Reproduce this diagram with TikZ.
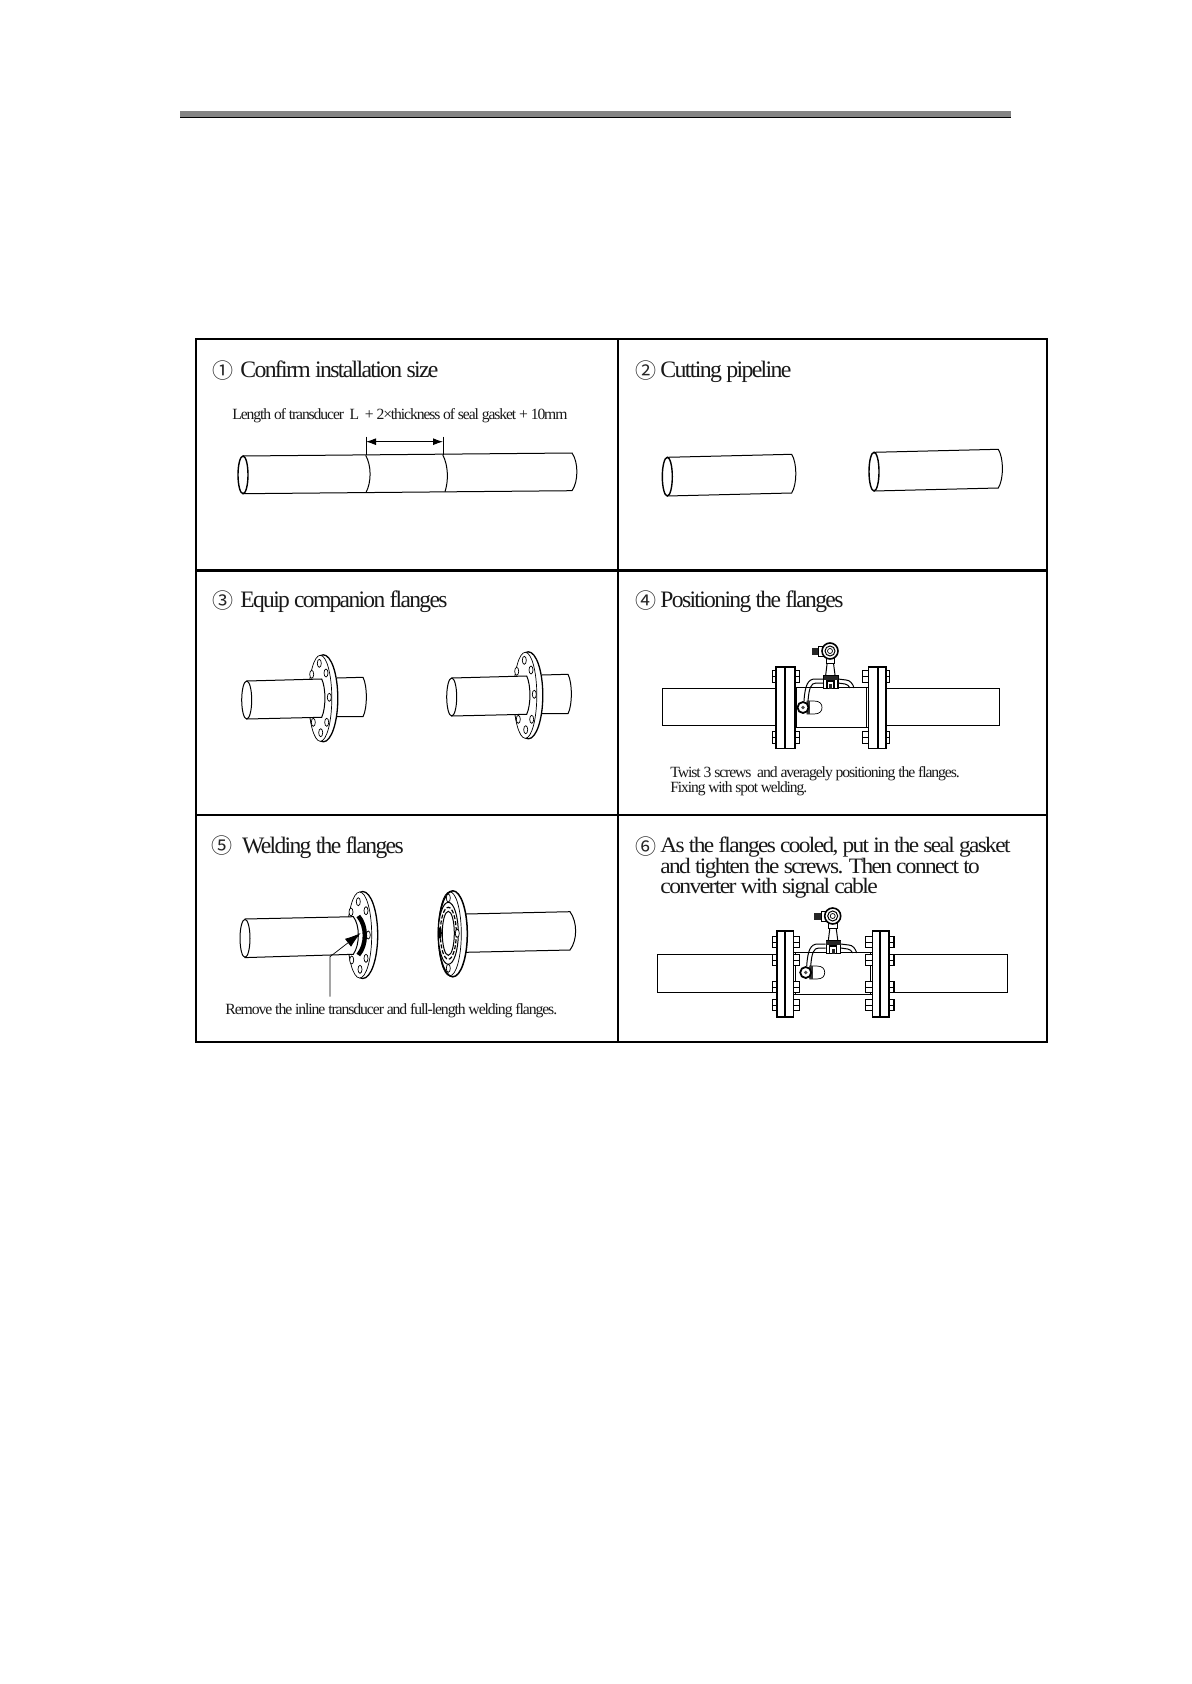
\documentclass[tikz,border=0pt]{standalone}
\usepackage{fontspec}
\usepackage{graphicx}
\setmainfont{Liberation Serif}[LetterSpace=-7]
\newfontfamily\circfont{Noto Sans CJK SC}
\usetikzlibrary{arrows.meta}
\tikzset{
  ln/.style={line width=0.5pt,black},
  thin ln/.style={line width=0.35pt,black},
  frame/.style={line width=1.25pt,black},
  ttl/.style={anchor=base west,inner sep=0pt,font=\fontsize{11.8}{14}\selectfont,text=black!90},
  ttlb/.style={anchor=base west,inner sep=0pt,font=\fontsize{11}{13}\selectfont,text=black!90},
  sub/.style={anchor=base west,inner sep=0pt,font=\fontsize{7.8}{10}\selectfont,text=black!90},
  num/.style={anchor=center,inner sep=0pt,font=\circfont\fontsize{10.5}{12}\selectfont,text=black!85},
}
% text squeezed to a width given in pixels
\newcommand{\fitw}[2]{\resizebox{\dimexpr #1pt/2\relax}{\height}{#2}}
% pipe with an open left end and a closed, bulging right end
\newcommand{\pipecyl}[7]{%
  \draw[ln] (#1,#2) -- (#4,#5) .. controls ({#4+#7},{#5+9}) and ({#4+#7},{#6-9}) .. (#4,#6) -- (#1,#3);
  \draw[line width=0.7pt] (#1,{(#2+#3)/2}) ellipse [x radius=5,y radius={(#3-#2)/2}];
}
% flange disc seen obliquely
\newcommand{\disc}[4]{%
  \draw[line width=0.65pt,fill=white] (#1,#2) ellipse [x radius=#3,y radius=#4];
  \draw[thin ln,fill=white] ({#1-3},#2) ellipse [x radius={#3-3},y radius={#4-0.5}];
}
\newcommand{\hole}[2]{\draw[thin ln,fill=white] (#1,#2) ellipse [x radius=2,y radius=4];}
% flange with the pipe through it, drawn at panel 3 left position
\newcommand{\flangepipe}{%
  \draw[ln] (337,678) -- (363,677.3) .. controls (367.5,686) and (367.5,708) .. (363,716.7) -- (337,716.7);
  \disc{323.3}{698.3}{14.5}{43.5}
  \foreach \hx/\hy in {319.3/663.3,311.7/674.3,326/673,329.3/697.3,326.7/722.3,313.3/722.3,320.7/732.7} {\hole{\hx}{\hy}}
  \draw[ln,fill=white] (247,681) -- (321.7,679) .. controls (326,688) and (326,708) .. (321.7,717.3) -- (247,719) -- cycle;
  \draw[line width=0.5pt,fill=white] (246.7,700) ellipse [x radius=5,y radius=19];
}
\newcommand{\nut}[4]{% x1 x2 yc halfheight
  \draw[line width=0.6pt,fill=white] (#1,{#3-#4}) rectangle (#2,{#3+#4});
  \draw[thin ln] (#1,#3) -- (#2,#3);
}
\newcommand{\plate}[5]{% x1 xm1 xm2 x2 ; y given by \ptop \pbot
  \draw[line width=0.8pt,fill=white] (#1,\ptop) rectangle (#4,\pbot);
  \fill[black] (#2,\ptop) rectangle (#3,\pbot);
}
% the flow meter on the spool, panel 4 position
\newcommand{\meterhead}{%
  % tubes
  \draw[ln] (823,679) -- (815,679) .. controls (808,679) and (805,685) .. (804,701);
  \draw[ln] (823,683) -- (816,683) .. controls (811,683) and (809,688) .. (808,701);
  \draw[ln] (838,679) -- (846,680) .. controls (850,680) and (853,684) .. (854,688);
  \draw[ln] (838,683) -- (845,684) .. controls (847,684) and (849,686) .. (850,688);
  % capsule and sensor
  \draw[thin ln,fill=white] (807,701) -- (814,701) .. controls (820,701) and (822,704) .. (822,707.5) .. controls (822,711) and (820,714) .. (814,714) -- (807,714) -- cycle;
  \fill[black!80] (807,701) rectangle (810,714);
  \draw[line width=0.9pt,fill=white] (803,707.5) circle [radius=5.5];
  \fill[black!70] (803,707.5) circle [radius=1.8];
  % stem
  \draw[ln] (827.3,661.7) -- (825.7,675);
  \draw[ln] (833.3,661.7) -- (835,675);
  % block
  \draw[line width=0.7pt,fill=white] (823.5,676) rectangle (838,688.5);
  \fill[black!85] (823.5,676) rectangle (838,679.5);
  \draw[line width=0.7pt,fill=white] (827,681) rectangle (834,688.5);
  \fill[black!85] (829,683.5) rectangle (832,688.5);
  % head
  \draw[ln,fill=white] (826,658) rectangle (834.5,663);
  \fill[black!85] (811.5,647.5) rectangle (818.5,655);
  \draw[ln,fill=white] (818.5,646.5) rectangle (824,656);
  \draw[line width=0.8pt,fill=white] (830,651) circle [radius=8];
  \draw[ln] (830,651) circle [radius=5];
  \draw[thin ln] (830,651) circle [radius=2.5];
}
\begin{document}
\begin{tikzpicture}[x=0.5pt,y=-0.5pt]
\useasboundingbox (0,0) rectangle (1191,1684);
\fill[white] (0,0) rectangle (1191,1684);
% head rule
\fill[black!48] (180,111) rectangle (1011,117);
\fill[black] (180,116.7) rectangle (1011,118);
% frame
\draw[frame] (196,339) rectangle (1047,1042);
\draw[frame] (196,570.5) -- (1047,570.5);
\draw[frame] (196,815) -- (1047,815);
\draw[frame] (618,339) -- (618,1042);

% Panel 1
\node[num] (n1) at (222.7,371) {①};
\node[ttl] (t1) at (240,377.7) {\fitw{198}{Confirm installation size}};
\node[sub] (s1) at (232,419) {\fitw{335}{Length of transducer\ \ L\ \ + 2×thickness of seal gasket + 10mm}};
\pipecyl{243}{456}{493.7}{572}{453}{490.7}{6.5}
\draw[ln] (365.7,455.3) .. controls (371.5,466) and (371.5,482) .. (366,492.5);
\draw[ln] (442.7,454.7) .. controls (448.5,466) and (448.5,481) .. (445,491.7);
\draw[ln] (366,436.7) -- (366,455.3);
\draw[ln] (443,436.7) -- (443,454.7);
\draw[ln,{Latex[length=5pt,width=3.5pt]}-{Latex[length=5pt,width=3.5pt]}] (366,441.7) -- (443,441.7);

% Panel 2
\node[num] (n2) at (645.7,370.5) {②};
\node[ttl] (t2) at (660,377.7) {\fitw{131}{Cutting pipeline}};
\pipecyl{667.3}{457.3}{496}{791.7}{454.3}{493}{5.5}
\pipecyl{874}{452.3}{491}{998.3}{449.3}{488}{5.5}

% Panel 3
\node[num] (n3) at (222.7,601) {③};
\node[ttl] (t3) at (240,607.7) {\fitw{207}{Equip companion flanges}};
\flangepipe
\begin{scope}[shift={(205,-3)}]
\flangepipe
\end{scope}

% Panel 4
\node[num] (n4) at (645.7,601) {④};
\node[ttl] (t4) at (660,607.7) {\fitw{183}{Positioning the flanges}};
\draw[ln] (775,688.3) -- (662.3,688.3) -- (662.3,725.7) -- (775,725.7);
\draw[ln] (886,688.3) -- (999.3,688.3) -- (999.3,725.7) -- (886,725.7);
\draw[ln] (795,687.3) -- (868,687.3);
\draw[ln] (795,727.7) -- (868,727.7);
\draw[thin ln] (796.5,687.3) -- (796.5,727.7);
\draw[thin ln] (866.5,687.3) -- (866.5,727.7);
\def\ptop{666.7}\def\pbot{748.3}
\foreach \yc in {676.3,737.2} {
  \nut{772.5}{775.7}{\yc}{6}
  \nut{794.5}{799.5}{\yc}{6}
  \nut{862.3}{868.3}{\yc}{6}
  \nut{885.7}{889.3}{\yc}{6}
}
\plate{775.7}{783.5}{786}{795}{}
\plate{868.3}{876.5}{878.5}{885.7}{}
\meterhead
\node[sub] (s4a) at (670,777) {\fitw{289.3}{Twist 3 screws\ \ and averagely positioning the flanges.}};
\node[sub] (s4b) at (670,792.7) {\fitw{136.7}{Fixing with spot welding.}};

% Panel 5
\node[num] (n5) at (222.3,846) {⑤};
\node[ttl] (t5) at (241.7,853) {\fitw{161.6}{Welding the flanges}};
\disc{362.7}{935}{15}{43.5}
\foreach \hx/\hy in {358.3/901.7,351/912,366/910.7,368.3/935,366/958.3,351.7/960,360/969.3} {\hole{\hx}{\hy}}
\draw[ln,fill=white] (245,919) -- (353.3,916.7) .. controls (360,925) and (360,945) .. (353.3,954.3) -- (245,957.6) -- cycle;
\draw[line width=0.5pt,fill=white] (245,938.3) ellipse [x radius=5,y radius=19];
\draw[line width=2.2pt,black] (358.3,916) .. controls (367,926) and (367,945) .. (358.3,955);
\coordinate (lead0) at (330,996.7);
\coordinate (lead1) at (330,956.7);
\coordinate (lead2) at (360.7,933);
\draw[thin ln,-{Latex[length=8pt,width=5pt]}] (lead0) -- (lead1) -- (lead2);
\node[sub] (s5) at (225,1014) {\fitw{331.7}{Remove the inline transducer and full-length welding flanges.}};
% right flange of panel 5
\draw[ln] (466,914) -- (570,911.7) .. controls (577.5,922) and (577.5,940) .. (570,950) -- (466,952.3);
\draw[line width=0.75pt,fill=white] (452.8,933.8) ellipse [x radius=14.5,y radius=43];
\draw[thin ln] (449.8,933.8) ellipse [x radius=11.5,y radius=42];
\draw[ln,fill=white] (448.3,933.3) ellipse [x radius=10,y radius=31];
\draw[line width=0.6pt,dash pattern=on 2pt off 1pt] (448.3,933.3) ellipse [x radius=8,y radius=26];
\draw[ln,fill=white] (448.3,933.3) ellipse [x radius=6,y radius=22];
\fill[black] (440,933) ellipse [x radius=1.8,y radius=6];
\foreach \hx/\hy in {448.3/898,457.3/933.3,448.3/968.3} {\hole{\hx}{\hy}}

% Panel 6
\node[num] (n6) at (645.7,846.5) {⑥};
\node[ttlb] (t6a) at (660,852.8) {\fitw{350}{As the flanges cooled, put in the seal gasket}};
\node[ttlb] (t6b) at (660,873) {\fitw{319.3}{and tighten the screws. Then connect to}};
\node[ttlb] (t6c) at (660,893.2) {\fitw{217.3}{converter with signal cable}};
\draw[ln] (776,954.3) -- (657.3,954.3) -- (657.3,992.3) -- (776,992.3);
\draw[ln] (889,954.3) -- (1007.7,954.3) -- (1007.7,992.3) -- (889,992.3);
\draw[ln] (793,952.3) -- (872,952.3);
\draw[ln] (793,994.3) -- (872,994.3);
\draw[thin ln] (795,952.3) -- (795,994.3);
\draw[thin ln] (870.5,952.3) -- (870.5,994.3);
\def\ptop{931}\def\pbot{1016.7}
\foreach \yc in {942.3,960,987.3,1005} {
  \nut{772.3}{776.7}{\yc}{5.5}
  \nut{793.3}{799.3}{\yc}{5.5}
  \nut{865.7}{872.3}{\yc}{5.5}
  \nut{889}{894}{\yc}{5.5}
}
\plate{776.7}{783.5}{785.7}{793.3}{}
\plate{872.3}{879}{881.2}{889}{}
\begin{scope}[shift={(2.7,265)}]
\meterhead
\end{scope}
\end{tikzpicture}
\end{document}
